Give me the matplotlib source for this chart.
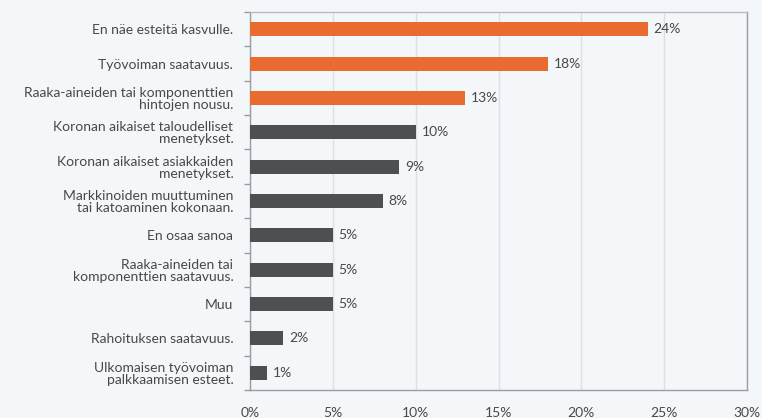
import matplotlib.pyplot as plt
import numpy as np

categories = [
    "En näe esteitä kasvulle.",
    "Työvoiman saatavuus.",
    "Raaka-aineiden tai komponenttien\nhintojen nousu.",
    "Koronan aikaiset taloudelliset\nmenetykset.",
    "Koronan aikaiset asiakkaiden\nmenetykset.",
    "Markkinoiden muuttuminen\ntai katoaminen kokonaan.",
    "En osaa sanoa",
    "Raaka-aineiden tai\nkomponenttien saatavuus.",
    "Muu",
    "Rahoituksen saatavuus.",
    "Ulkomaisen työvoiman\npalkkaamisen esteet.",
]
values = [24, 18, 13, 10, 9, 8, 5, 5, 5, 2, 1]
highlight = [True, True, True, False, False, False, False, False, False, False, False]
xticks = [0, 5, 10, 15, 20, 25, 30]

bg = "#f4f7fa"
txt = "#484848"
plt.rcParams['font.family'] = ['Lato', 'DejaVu Sans']

fig = plt.figure(figsize=(7.62, 4.18), dpi=100, facecolor=bg)
ax = fig.add_axes([250/762, 28/418, 497/762, 378/418])
ax.set_facecolor(bg)

n = len(categories)
y_pos = np.arange(n)
colors = ["#e96b30" if h else "#4d4f52" for h in highlight]
ax.barh(y_pos, values, height=0.41, color=colors, zorder=3)

for y, v in zip(y_pos, values):
    ax.text(v + 0.35, y, f"{v}%", va="center", ha="left", fontsize=10, color=txt)

ax.set_ylim(n - 0.5, -0.5)
ax.set_xlim(0, 30)
ax.set_yticks(y_pos)
ax.set_yticklabels(categories, fontsize=10, color=txt, linespacing=1.0)
ax.set_yticks(np.arange(n + 1) - 0.5, minor=True)
ax.tick_params(axis="y", which="major", length=0, pad=12)
ax.tick_params(axis="y", which="minor", length=4, color="#999999", width=1)
for lbl in ax.get_yticklabels():
    lbl.set_horizontalalignment("right")

ax.set_xticks(xticks)
ax.set_xticklabels([f"{t}%" for t in xticks], fontsize=10, color=txt)
ax.tick_params(axis="x", length=0, pad=12)
ax.grid(axis="x", color="#dcdfe3", linewidth=1, zorder=0)

for s in ax.spines.values():
    s.set_color("#9a9da1")
    s.set_linewidth(1)
ax.spines["top"].set_color("#b8bbbf")

fig.savefig("out.png", dpi=100, facecolor=bg)
